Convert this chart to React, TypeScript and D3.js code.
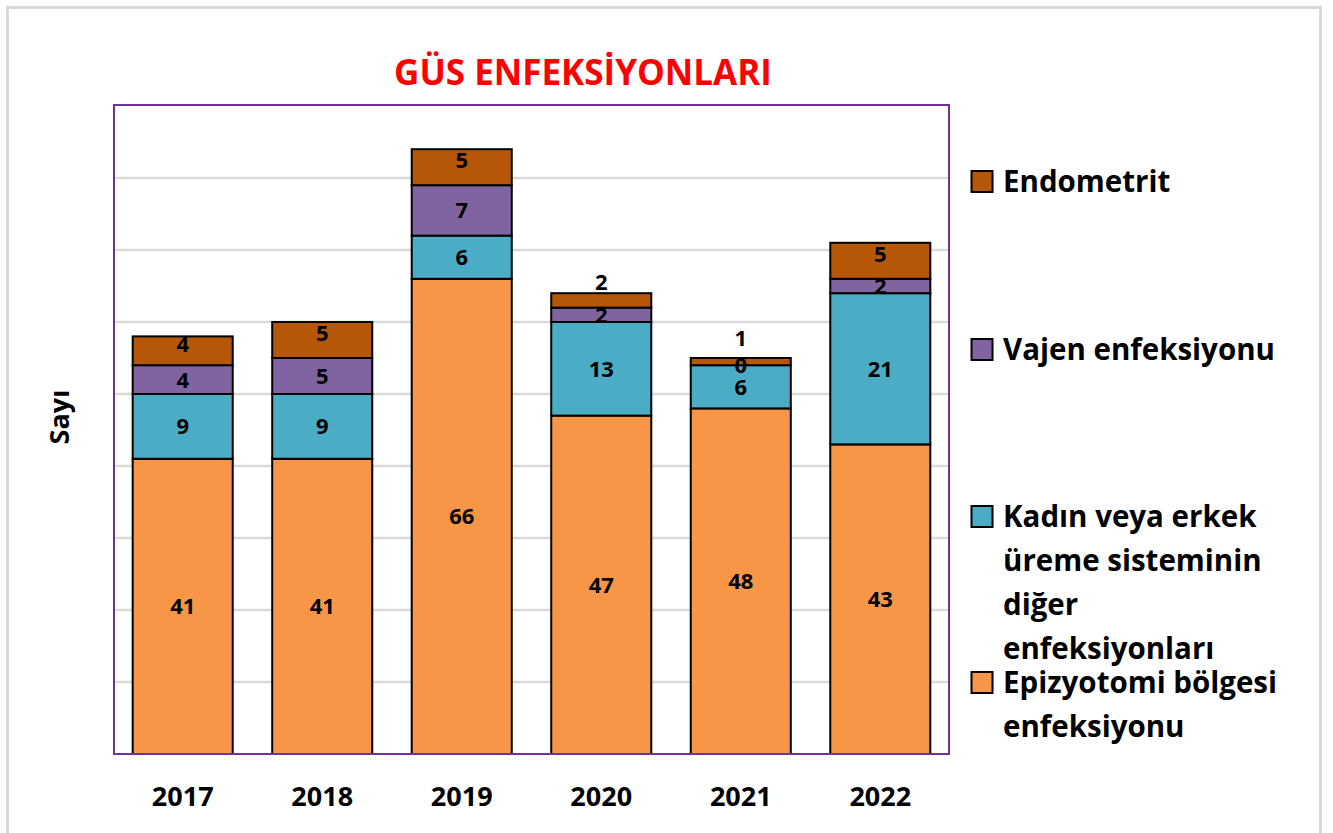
import React from "react";
import * as d3 from "d3";

const years = ["2017", "2018", "2019", "2020", "2021", "2022"];
const seriesNames = [
  "Epizyotomi bölgesi enfeksiyonu",
  "Kadın veya erkek üreme sisteminin diğer enfeksiyonları",
  "Vajen enfeksiyonu",
  "Endometrit",
];
const epizyotomi = [41, 41, 66, 47, 48, 43];
const kadinErkek = [9, 9, 6, 13, 6, 21];
const vajen = [4, 5, 7, 2, 0, 2];
const endometrit = [4, 5, 5, 2, 1, 5];
const yTicks = [10, 20, 30, 40, 50, 60, 70, 80];
const title = "GÜS ENFEKSİYONLARI";
const yAxisTitle = "Sayı";

const colors = ["#F79646", "#4BACC6", "#8064A2", "#B65708"];

const legendItems = [
  { s: 3, lines: ["Endometrit"], y: 192 },
  { s: 2, lines: ["Vajen enfeksiyonu"], y: 360 },
  { s: 1, lines: ["Kadın veya erkek", "üreme sisteminin", "diğer", "enfeksiyonları"], y: 527 },
  { s: 0, lines: ["Epizyotomi bölgesi", "enfeksiyonu"], y: 693 },
];

const FONT = "'Open Sans', Lato, sans-serif";

export default function App() {
  const W = 1333, H = 833;
  const plot = { x0: 114, x1: 949, y0: 105, y1: 754 };
  const x = d3.scaleBand<string>().domain(years).range([plot.x0, plot.x1]).paddingInner(0.283).paddingOuter(0.134);
  const y = d3.scaleLinear().domain([0, 90]).range([plot.y1, 106]);

  const table = years.map((yr, i) => ({
    year: yr,
    s0: epizyotomi[i],
    s1: kadinErkek[i],
    s2: vajen[i],
    s3: endometrit[i],
  }));
  const stack = d3.stack<any>().keys(["s0", "s1", "s2", "s3"])(table);

  const labelY = (si: number, i: number) => {
    const d = stack[si][i];
    const v = d[1] - d[0];
    const top = y(d[1]);
    const bot = y(d[0]);
    let cy = (top + bot) / 2;
    if (si === 3) {
      if (v <= 2) {
        const below = labelY(2, i);
        cy = Math.min(top - 11, below - 27);
      } else cy = cy - 7;
    }
    return cy;
  };

  return (
    <svg width={W} height={H} style={{ position: "absolute", left: 0, top: 0 }} fontFamily={FONT}>
      <rect x={0} y={0} width={W} height={H} fill="#fff" />
      <rect x={7.5} y={7.5} width={1313} height={840} fill="#fff" stroke="#d9d9d9" strokeWidth={3} />
      <text x={583} y={85} textAnchor="middle" fontSize={35} fontWeight={700} fill="#FF0000">{title}</text>
      {yTicks.map((t) => (
        <line key={t} x1={plot.x0} x2={plot.x1} y1={y(t)} y2={y(t)} stroke="#d9d9d9" strokeWidth={2.5} />
      ))}
      {stack.map((layer, si) =>
        layer.map((d, i) => {
          const top = y(d[1]);
          const bot = y(d[0]);
          return (
            <rect key={si + "-" + i} x={x(years[i])} y={top} width={x.bandwidth()} height={Math.max(0, bot - top)}
              fill={colors[si]} stroke="#000" strokeWidth={2} />
          );
        })
      )}
      {stack.map((layer, si) =>
        layer.map((d, i) => (
          <text key={"l" + si + "-" + i} x={(x(years[i]) as number) + x.bandwidth() / 2} y={labelY(si, i)}
            dy="0.36em" textAnchor="middle" fontSize={22} fontWeight={700} fill="#000">{d[1] - d[0]}</text>
        ))
      )}
      <rect x={plot.x0} y={plot.y0} width={plot.x1 - plot.x0} height={plot.y1 - plot.y0} fill="none" stroke="#7030A0" strokeWidth={2} />
      {years.map((yr) => (
        <text key={yr} x={(x(yr) as number) + x.bandwidth() / 2} y={806} textAnchor="middle" fontSize={27} fontWeight={700} fill="#000">{yr}</text>
      ))}
      <text transform="translate(69,417) rotate(-90)" textAnchor="middle" fontSize={27} fontWeight={700} fill="#000">{yAxisTitle}</text>
      {legendItems.map((it) => (
        <g key={it.s}>
          <rect x={971.5} y={it.y - 21} width={21} height={21} fill={colors[it.s]} stroke="#000" strokeWidth={2} />
          {it.lines.map((ln, k) => (
            <text key={k} x={1003} y={it.y + k * 44} fontSize={29.5} fontWeight={700} fill="#000">{ln}</text>
          ))}
        </g>
      ))}
    </svg>
  );
}
